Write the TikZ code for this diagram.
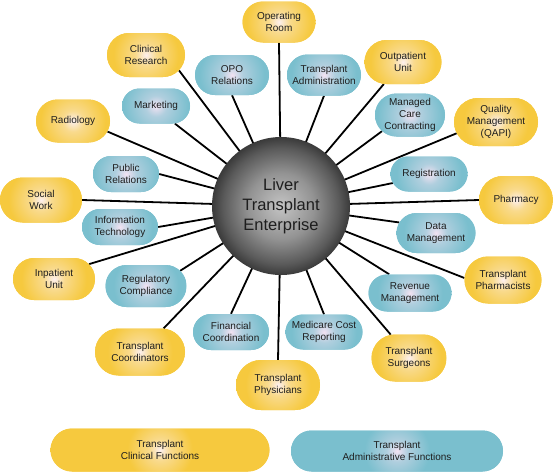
\documentclass[tikz,border=0pt]{standalone}
\usepackage{fontspec}
\setmainfont{Liberation Sans}
\usetikzlibrary{shapes.misc,backgrounds}
\definecolor{yout}{HTML}{F6C93E}
\definecolor{yin}{HTML}{FCEFEE}
\definecolor{bout}{HTML}{7ABFCE}
\definecolor{bin}{HTML}{F2E2F2}
\definecolor{txt}{HTML}{1E1E1E}
\definecolor{sA}{HTML}{C4C4C4}
\definecolor{sB}{HTML}{939393}
\definecolor{sC}{HTML}{5A5A5A}
\definecolor{sD}{HTML}{3A3A3A}
\colorlet{ymid}{yin!45!yout}
\colorlet{bmid}{bin!45!bout}
\pgfdeclareradialshading{yglow}{\pgfpointorigin}{color(0bp)=(yin); color(2.2bp)=(ymid); color(6.8bp)=(yout); color(50bp)=(yout)}
\pgfdeclareradialshading{bglow}{\pgfpointorigin}{color(0bp)=(bin); color(2.2bp)=(bmid); color(6.8bp)=(bout); color(50bp)=(bout)}
\pgfdeclareradialshading{sphere}{\pgfpointorigin}{color(0bp)=(sA); color(12bp)=(sB); color(21bp)=(sC); color(25bp)=(sD); color(50bp)=(sD)}
\tikzset{
  pill/.style={rounded rectangle, inner sep=0pt, align=center, text=txt,
    font=\fontsize{10}{12}\selectfont},
  glowbox/.style={path picture={\shade[shading=#1]
      ([shift={(-120pt,-120pt)}]path picture bounding box.center) rectangle
      ([shift={(120pt,120pt)}]path picture bounding box.center);}},
  ybox/.style={pill, fill=yout, glowbox=yglow},
  bbox/.style={pill, fill=bout, glowbox=bglow},
  hub/.style={circle, minimum size=138pt, inner sep=0pt, shading=sphere, align=center,
    text=txt, font=\fontsize{16.5}{20}\selectfont},
  spoke/.style={line width=1.8pt, black}
}
\begin{document}
\begin{tikzpicture}[x=1pt,y=-1pt]
\useasboundingbox (0,0) rectangle (553,472);
\node[hub] (c) at (281,206) {Liver\\Transplant\\Enterprise};
% clinical (yellow)
\node[ybox, minimum width=73pt, minimum height=41pt] (op) at (279,22) {Operating\\Room};
\node[ybox, minimum width=78pt, minimum height=44pt] (cr) at (146,55) {Clinical\\Research};
\node[ybox, minimum width=74pt, minimum height=43pt] (rad) at (73,121) {Radiology};
\node[ybox, minimum width=77pt, minimum height=44pt] (ou) at (403,62) {Outpatient\\Unit};
\node[ybox, minimum width=84pt, minimum height=48pt] (qa) at (496,122) {Quality\\Management\\(QAPI)};
\node[ybox, minimum width=82pt, minimum height=45pt] (sw) at (41,200) {Social\\Work};
\node[ybox, minimum width=82pt, minimum height=42pt] (iu) at (54,279) {Inpatient\\Unit};
\node[ybox, minimum width=74pt, minimum height=48pt] (ph) at (516,200) {Pharmacy};
\node[ybox, minimum width=77pt, minimum height=47pt] (tph) at (503,280) {Transplant\\Pharmacists};
\node[ybox, minimum width=90pt, minimum height=47pt] (tc) at (140,352) {Transplant\\Coordinators};
\node[ybox, minimum width=84pt, minimum height=50pt] (tp) at (278,385) {Transplant\\Physicians};
\node[ybox, minimum width=75pt, minimum height=47pt] (ts) at (409,358) {Transplant\\Surgeons};
% administrative (blue)
\node[bbox, minimum width=74pt, minimum height=40pt] (opo) at (232,75) {OPO\\Relations};
\node[bbox, minimum width=68pt, minimum height=35pt] (mk) at (156,106) {Marketing};
\node[bbox, minimum width=74pt, minimum height=41pt] (ta) at (324,75) {Transplant\\Administration};
\node[bbox, minimum width=70pt, minimum height=43pt] (mc) at (410,115) {Managed\\Care\\Contracting};
\node[bbox, minimum width=66pt, minimum height=36pt] (pr) at (126,174) {Public\\Relations};
\node[bbox, minimum width=76pt, minimum height=36pt] (it) at (120,227) {Information\\Technology};
\node[bbox, minimum width=81pt, minimum height=42pt] (rc) at (146,286) {Regulatory\\Compliance};
\node[bbox, minimum width=77pt, minimum height=35pt] (reg) at (429,174) {Registration};
\node[bbox, minimum width=79pt, minimum height=40pt] (dm) at (436,233) {Data\\Management};
\node[bbox, minimum width=83pt, minimum height=37pt] (rm) at (410,293) {Revenue\\Management};
\node[bbox, minimum width=76pt, minimum height=36pt] (fc) at (231,332) {Financial\\Coordination};
\node[bbox, minimum width=77pt, minimum height=35pt] (mcr) at (324,332) {Medicare Cost\\Reporting};
% legend
\node[ybox, minimum width=219pt, minimum height=43pt] (lc) at (160,450) {Transplant\\Clinical Functions};
\node[bbox, minimum width=212pt, minimum height=41pt] (la) at (397,451) {Transplant\\Administrative Functions};
\begin{pgfonlayer}{background}
\draw[spoke] (c.center) -- (op.south);
\draw[spoke] (c.center) -- (cr.-25);
\draw[spoke] (c.center) -- (opo.south);
\draw[spoke] (c.center) -- (mk.-43);
\draw[spoke] (c.center) -- (rad.-17);
\draw[spoke] (c.center) -- (ta.south);
\draw[spoke] (c.center) -- (ou.-131);
\draw[spoke] (c.center) -- (mc.210);
\draw[spoke] (c.center) -- (qa.196);
\draw[spoke] (c.center) -- (pr.east);
\draw[spoke] (c.center) -- (sw.east);
\draw[spoke] (c.center) -- (it.east);
\draw[spoke] (c.center) -- (iu.23);
\draw[spoke] (c.center) -- (rc.24);
\draw[spoke] (c.center) -- (reg.194);
\draw[spoke] (c.center) -- (ph.west);
\draw[spoke] (c.center) -- (dm.164);
\draw[spoke] (c.center) -- (tph.177);
\draw[spoke] (c.center) -- (rm.138);
\draw[spoke] (c.center) -- (tc.45);
\draw[spoke] (c.center) -- (fc.north);
\draw[spoke] (c.center) -- (tp.north);
\draw[spoke] (c.center) -- (mcr.north);
\draw[spoke] (c.center) -- (ts.128);
\end{pgfonlayer}
\end{tikzpicture}
\end{document}
